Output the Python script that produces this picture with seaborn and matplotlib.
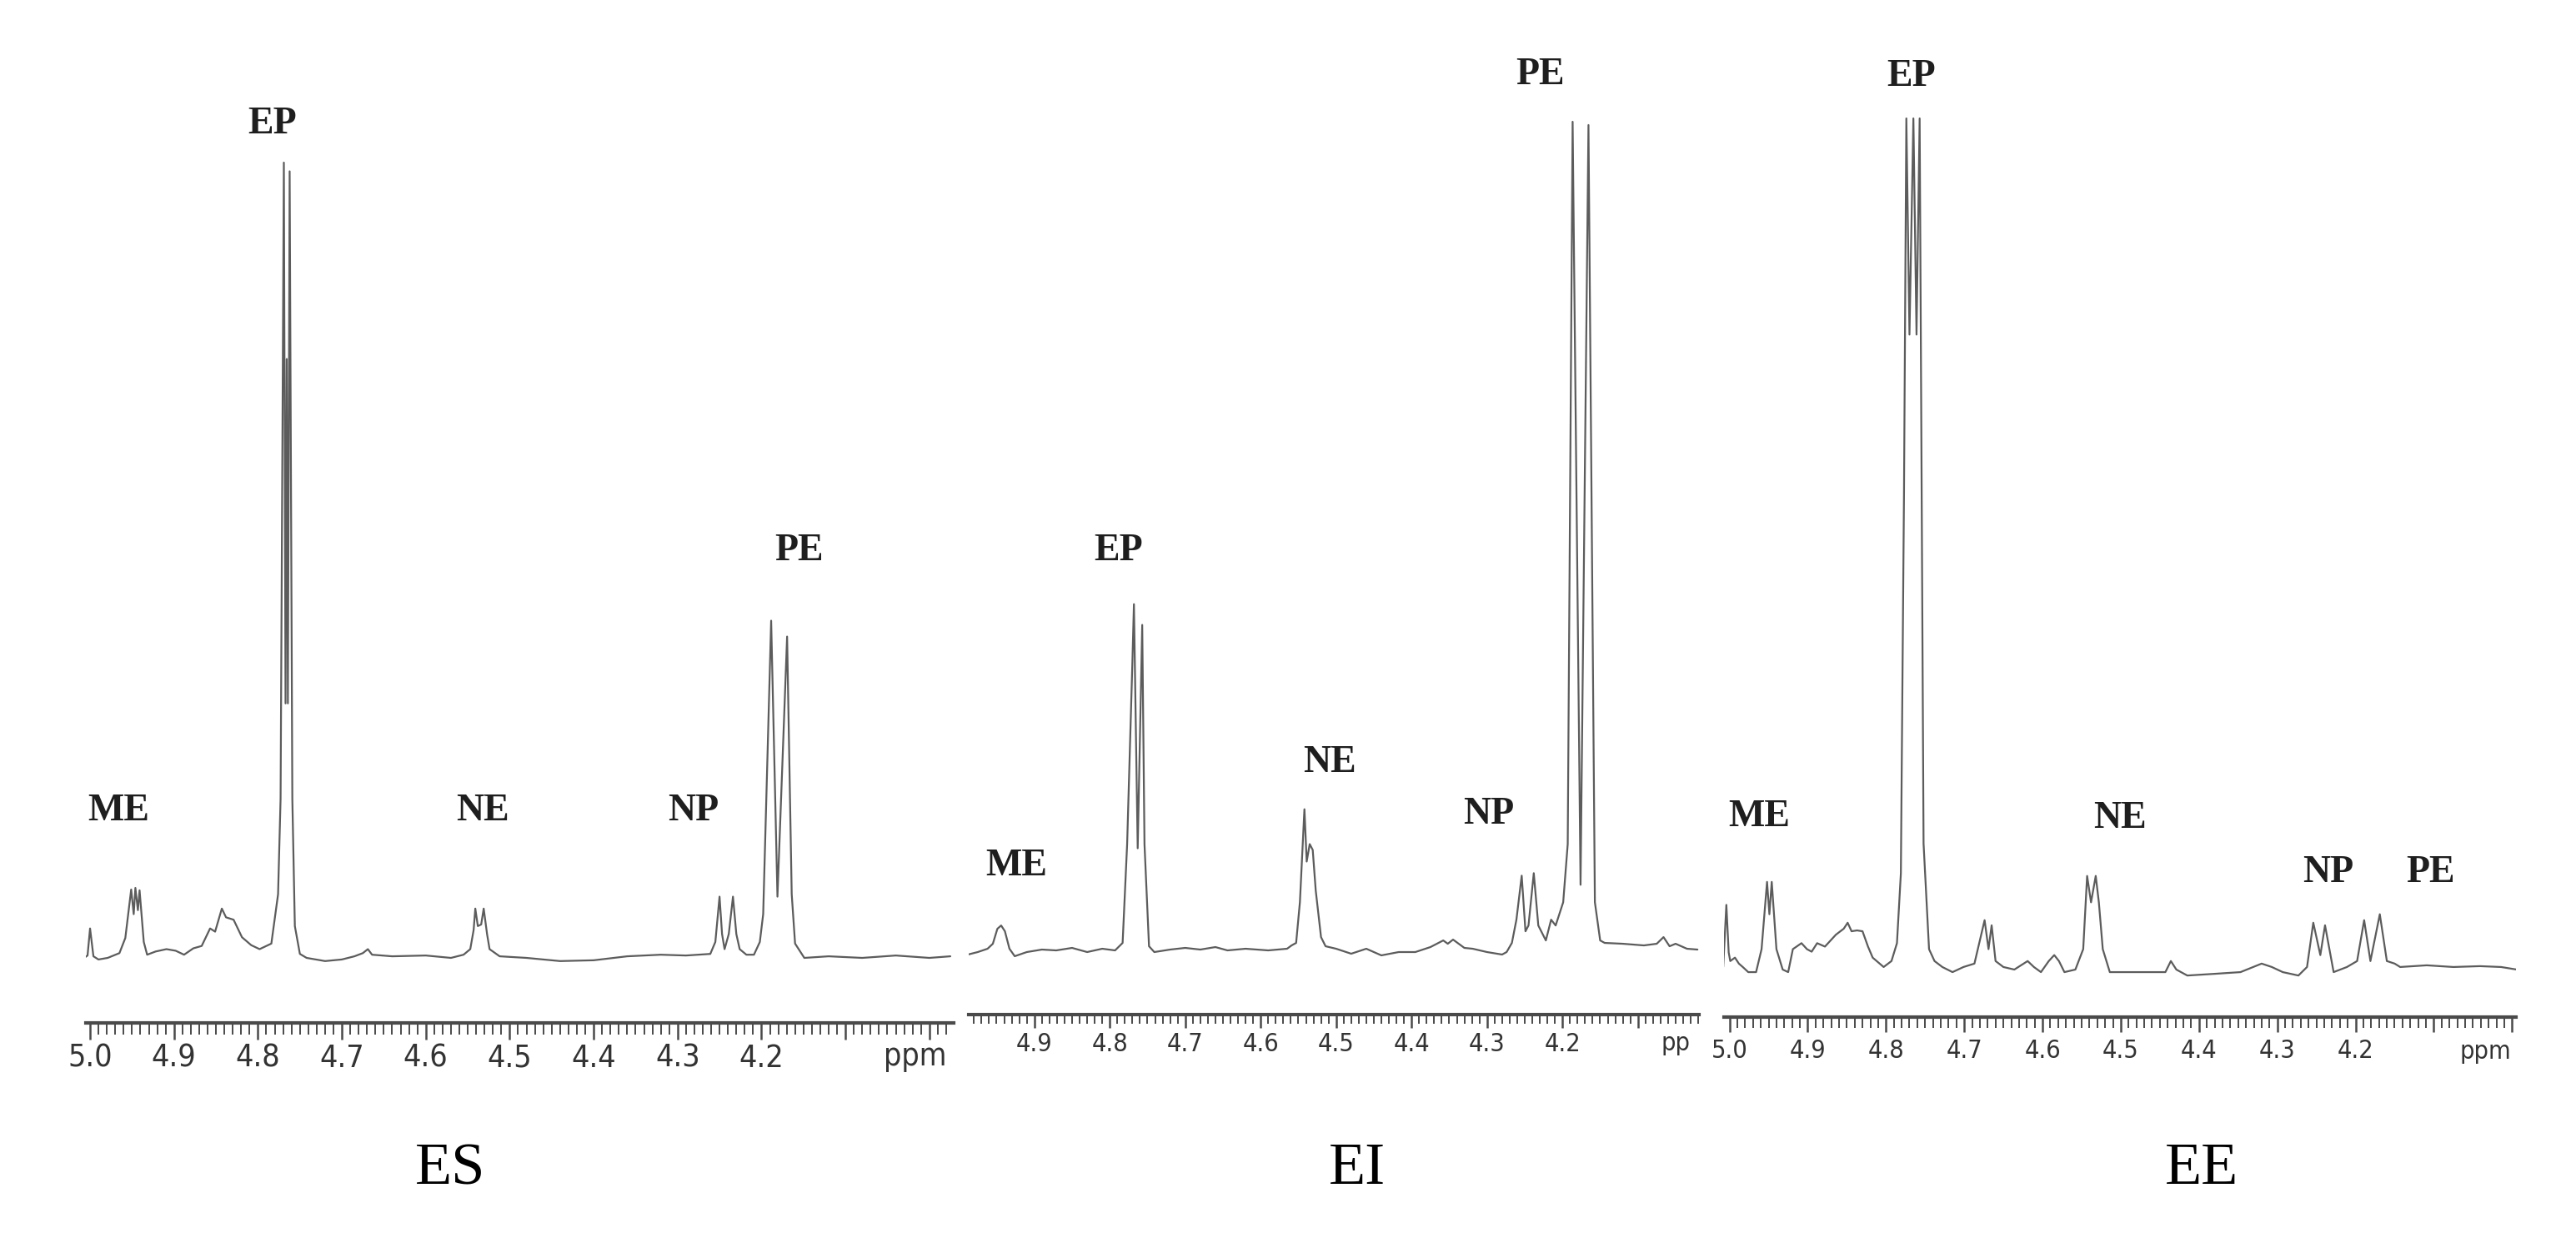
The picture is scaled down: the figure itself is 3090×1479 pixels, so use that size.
import matplotlib
matplotlib.use("Agg")
import matplotlib.pyplot as plt
import seaborn as sns
from matplotlib.ticker import FixedLocator, FixedFormatter, MultipleLocator

sns.set_style("ticks")
plt.rcParams["font.family"] = ["Liberation Serif", "DejaVu Serif"]

W, H = 3090, 1479

# spectre ES (ppm, intensite relative)
es_ppm = [5.007, 5.003, 5.000, 4.996, 4.990, 4.979, 4.965, 4.958, 4.951, 4.948, 4.946, 4.943, 4.941, 4.936,
          4.932, 4.922, 4.909, 4.898, 4.888, 4.877, 4.867, 4.857, 4.851, 4.843, 4.838, 4.829, 4.819, 4.808,
          4.798, 4.784, 4.776, 4.773, 4.7691, 4.7671, 4.7657, 4.7643, 4.7622, 4.759, 4.756, 4.750, 4.742,
          4.720, 4.700, 4.685, 4.675, 4.669, 4.664, 4.640, 4.600, 4.570, 4.555, 4.547, 4.543, 4.541, 4.538,
          4.534, 4.531, 4.527, 4.524, 4.512, 4.480, 4.440, 4.400, 4.360, 4.320, 4.290, 4.261, 4.255, 4.250,
          4.247, 4.244, 4.239, 4.234, 4.230, 4.226, 4.218, 4.209, 4.202, 4.198, 4.1885, 4.181, 4.1695,
          4.164, 4.160, 4.149, 4.120, 4.080, 4.040, 4.000, 3.975]
es_int = [0.0, 0.3, 3.7, 0.2, -0.2, 0.0, 0.6, 2.5, 8.6, 5.5, 8.8, 6.0, 8.5, 2.0,
          0.4, 0.8, 1.1, 0.9, 0.4, 1.2, 1.5, 3.7, 3.3, 6.2, 5.1, 4.8, 2.6, 1.6,
          1.1, 1.8, 8.0, 20.0, 100.0, 32.0, 75.3, 32.0, 98.9, 20.0, 4.0, 0.5, 0.0,
          -0.4, -0.2, 0.2, 0.6, 1.1, 0.4, 0.2, 0.3, 0.0, 0.4, 1.1, 3.5, 6.2, 4.0,
          4.2, 6.2, 3.0, 1.1, 0.2, 0.0, -0.4, -0.3, 0.2, 0.4, 0.3, 0.5, 2.0, 7.7,
          3.0, 1.1, 3.0, 7.7, 3.0, 1.1, 0.4, 0.4, 2.0, 5.5, 42.4, 7.7, 40.4,
          8.0, 1.8, 0.0, 0.2, 0.0, 0.3, 0.0, 0.2]

# spectre EI
ei_ppm = [4.988, 4.975, 4.962, 4.955, 4.949, 4.944, 4.939, 4.933, 4.926, 4.910, 4.890, 4.871, 4.850,
          4.830, 4.810, 4.793, 4.783, 4.777, 4.770, 4.768, 4.763, 4.757, 4.754, 4.748, 4.741, 4.720,
          4.700, 4.680, 4.660, 4.644, 4.620, 4.590, 4.565, 4.559, 4.553, 4.548, 4.542, 4.539, 4.535,
          4.531, 4.527, 4.520, 4.514, 4.500, 4.480, 4.460, 4.440, 4.417, 4.395, 4.375, 4.358, 4.352,
          4.345, 4.330, 4.319, 4.300, 4.280, 4.274, 4.267, 4.261, 4.254, 4.249, 4.245, 4.238, 4.232,
          4.222, 4.215, 4.209, 4.199, 4.193, 4.1865, 4.176, 4.1655, 4.157, 4.150, 4.144, 4.120, 4.092,
          4.075, 4.066, 4.058, 4.050, 4.035, 4.021]
ei_int = [-0.3, 0.0, 0.4, 1.0, 2.8, 3.2, 2.5, 0.4, -0.5, 0.0, 0.3, 0.2, 0.5,
          0.0, 0.4, 0.2, 1.1, 13.0, 35.0, 41.9, 12.5, 39.4, 13.0, 0.7, 0.0, 0.3,
          0.5, 0.3, 0.6, 0.2, 0.4, 0.2, 0.4, 0.8, 1.1, 6.0, 17.2, 10.9, 13.0,
          12.3, 7.4, 1.8, 0.7, 0.4, -0.2, 0.4, -0.4, 0.0, 0.0, 0.6, 1.4, 1.0,
          1.5, 0.5, 0.4, 0.0, -0.3, 0.0, 1.1, 3.9, 9.2, 2.5, 3.2, 9.5, 3.2,
          1.4, 3.9, 3.2, 6.0, 13.0, 100.0, 8.1, 99.6, 6.0, 1.4, 1.1, 1.0, 0.8,
          1.0, 1.8, 0.7, 1.0, 0.4, 0.3]

# spectre EE
ee_ppm = [5.008, 5.004, 5.001, 4.999, 4.993, 4.988, 4.983, 4.976, 4.966, 4.959, 4.952, 4.949, 4.946,
          4.940, 4.932, 4.925, 4.919, 4.908, 4.901, 4.895, 4.888, 4.878, 4.864, 4.854, 4.849, 4.844,
          4.837, 4.830, 4.823, 4.817, 4.803, 4.793, 4.786, 4.781, 4.777, 4.774, 4.770, 4.765, 4.761,
          4.757, 4.752, 4.745, 4.738, 4.728, 4.715, 4.701, 4.687, 4.674, 4.669, 4.665, 4.660, 4.650,
          4.636, 4.619, 4.611, 4.602, 4.592, 4.585, 4.579, 4.572, 4.558, 4.548, 4.543, 4.538, 4.532,
          4.528, 4.523, 4.514, 4.483, 4.443, 4.436, 4.429, 4.415, 4.380, 4.347, 4.320, 4.307, 4.293,
          4.273, 4.262, 4.254, 4.245, 4.239, 4.228, 4.211, 4.198, 4.189, 4.181, 4.169, 4.160, 4.150,
          4.143, 4.109, 4.075, 4.041, 4.014, 3.994]
ee_int = [0.3, 7.6, 2.0, 1.0, 1.4, 0.7, 0.3, -0.3, -0.3, 2.4, 10.3, 6.5, 10.3,
          2.4, 0.0, -0.3, 2.4, 3.1, 2.4, 2.1, 3.1, 2.7, 4.1, 4.8, 5.5, 4.5,
          4.6, 4.5, 2.7, 1.4, 0.3, 1.0, 3.1, 11.3, 56.0, 100.0, 74.6, 100.0, 74.6,
          100.0, 14.8, 2.4, 1.0, 0.3, -0.3, 0.3, 0.7, 5.8, 2.4, 5.2, 1.0, 0.3,
          0.0, 1.0, 0.3, -0.3, 1.0, 1.7, 1.0, -0.3, 0.0, 2.4, 11.0, 7.9, 11.0,
          7.9, 2.4, -0.3, -0.3, -0.3, 1.0, 0.0, -0.7, -0.5, -0.3, 0.7, 0.3, -0.3,
          -0.7, 0.3, 5.5, 1.7, 5.2, -0.3, 0.3, 1.0, 5.8, 1.0, 6.5, 1.0, 0.7,
          0.3, 0.5, 0.3, 0.4, 0.3, 0.0]

major_ticks = [5.0, 4.9, 4.8, 4.7, 4.6, 4.5, 4.4, 4.3, 4.2, 4.1, 4.0]
tick_labels = ["5.0", "4.9", "4.8", "4.7", "4.6", "4.5", "4.4", "4.3", "4.2", "", ""]

peak_names = ["ME", "EP", "NE", "NP", "PE"]
es_label_pos = [(4.966, 18.4), (4.783, 104.8), (4.532, 18.4), (4.281, 18.4), (4.155, 51.2)]
ei_label_pos = [(4.924, 10.3), (4.789, 48.3), (4.509, 22.8), (4.298, 16.6), (4.229, 105.6)]
ee_label_pos = [(4.962, 17.9), (4.768, 104.9), (4.501, 17.7), (4.235, 11.4), (4.104, 11.4)]

# mise en page en pixels de l'image
panels = [
    dict(name="ES", ppm=es_ppm, inten=es_int, labels=es_label_pos, xlim=(5.005, 3.971), px=(103, 1144),
         y_axis=1227, y_base=1149, y_full=195, unit="ppm", unit_x=4.017, unit_y=1268,
         tsize=27, tlen=20, tpad=5, name_x=540),
    dict(name="EI", ppm=ei_ppm, inten=ei_int, labels=ei_label_pos, xlim=(4.987, 4.019), px=(1162, 2038),
         y_axis=1217, y_base=1142, y_full=146, unit="pp", unit_x=4.050, unit_y=1252,
         tsize=22, tlen=16, tpad=5, name_x=1628),
    dict(name="EE", ppm=ee_ppm, inten=ee_int, labels=ee_label_pos, xlim=(5.007, 3.995), px=(2068, 3018),
         y_axis=1220, y_base=1163, y_full=142, unit="ppm", unit_x=4.034, unit_y=1262,
         tsize=22, tlen=18, tpad=8, name_x=2641),
]

fig = plt.figure(figsize=(W / 100, H / 100), dpi=100)
tick_font = ["DejaVu Sans"]
y_top = 40

for p in panels:
    x0, x1 = p["px"]
    ax = fig.add_axes([x0 / W, (H - p["y_axis"]) / H, (x1 - x0) / W, (p["y_axis"] - y_top) / H])
    scale = 100.0 / (p["y_base"] - p["y_full"])
    ax.set_ylim((p["y_base"] - p["y_axis"]) * scale, (p["y_base"] - y_top) * scale)
    ax.set_xlim(*p["xlim"])

    sns.lineplot(x=p["ppm"], y=p["inten"], ax=ax, sort=False, estimator=None,
                 color="#5c5c5c", linewidth=1.6)

    for s in ["top", "right", "left"]:
        ax.spines[s].set_visible(False)
    ax.spines["bottom"].set_color("#4a4a4a")
    ax.spines["bottom"].set_linewidth(3)
    ax.set_yticks([])
    ax.xaxis.set_major_locator(FixedLocator(major_ticks))
    ax.xaxis.set_major_formatter(FixedFormatter(tick_labels))
    ax.xaxis.set_minor_locator(MultipleLocator(0.01))
    ax.tick_params(axis="x", which="both", bottom=True, top=False)
    ax.tick_params(axis="x", which="major", direction="out", length=p["tlen"] * 0.72, width=1.8,
                   color="#4a4a4a", pad=p["tpad"] * 0.72, labelsize=p["tsize"], labelcolor="#333333")
    ax.tick_params(axis="x", which="minor", direction="out", length=p["tlen"] * 0.5, width=1.4,
                   color="#4a4a4a")
    for lab in ax.get_xticklabels():
        lab.set_family(tick_font)
        lab.set_fontstretch("condensed")
    ax.set_xlabel("")
    ax.set_ylabel("")

    # nom de l'unite
    frac = -(p["unit_y"] - p["y_axis"]) / (p["y_axis"] - y_top)
    ax.text(p["unit_x"], frac, p["unit"], transform=ax.get_xaxis_transform(), ha="center", va="center",
            fontsize=p["tsize"], color="#333333", family=tick_font, fontstretch="condensed")

    for nm, (lx, ly) in zip(peak_names, p["labels"]):
        ax.text(lx, ly, nm, ha="center", va="center", fontsize=33, fontweight="bold", color="#1e1e1e")

    fig.text(p["name_x"] / W, 1 - 1403 / H, p["name"], ha="center", va="center", fontsize=52, color="black")

fig.savefig("out.png", dpi=100, facecolor="white")
